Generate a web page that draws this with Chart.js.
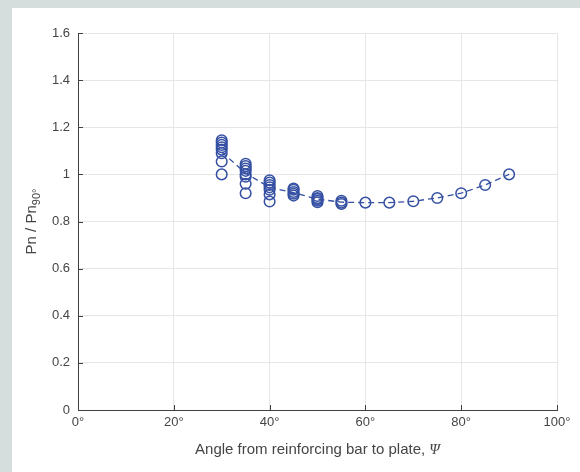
<!DOCTYPE html>
<html>
<head>
<meta charset="utf-8">
<script src="https://cdn.jsdelivr.net/npm/chart.js@4.4.1/dist/chart.umd.min.js"></script>
<style>
  html, body { margin: 0; padding: 0; background: #d5dedc; }
  #wrap { position: relative; width: 580px; height: 472px; }
  canvas { display: block; }
</style>
</head>
<body>
<div id="wrap"><canvas id="chart" width="580" height="472"></canvas></div>
<script>
// Individual specimens: angle (deg) and normalised strength Pn / Pn90°
const specimenAngle = [
  30, 30, 30, 30, 30, 30, 30, 30,
  35, 35, 35, 35, 35, 35, 35, 35,
  40, 40, 40, 40, 40, 40, 40,
  45, 45, 45, 45, 45,
  50, 50, 50, 50, 50,
  55, 55, 55,
  60, 65, 70, 75, 80, 85, 90
];
const specimenRatio = [
  1.145, 1.135, 1.125, 1.115, 1.105, 1.09, 1.055, 1.00,
  1.045, 1.035, 1.025, 1.015, 1.00, 0.99, 0.96, 0.92,
  0.975, 0.965, 0.955, 0.945, 0.935, 0.915, 0.885,
  0.94, 0.935, 0.925, 0.918, 0.91,
  0.908, 0.90, 0.895, 0.888, 0.882,
  0.888, 0.88, 0.874,
  0.88, 0.88, 0.886, 0.90, 0.92, 0.955, 1.00
];

// Mean trend through the groups
const meanAngle = [30, 35, 40, 45, 50, 55, 60, 65, 70, 75, 80, 85, 90];
const meanRatio = [1.095, 1.005, 0.945, 0.922, 0.895, 0.882, 0.88, 0.88, 0.886, 0.90, 0.92, 0.955, 1.00];

// Axis ticks
const xTicks = [0, 20, 40, 60, 80, 100];
const yTicks = [0, 0.2, 0.4, 0.6, 0.8, 1.0, 1.2, 1.4, 1.6];

const BLUE = '#3550a3';
const TEXT = '#454545';
const AXIS = '#404040';
const GRID = '#e6e6e6';
const SANS = '"Liberation Sans", Arial, Helvetica, sans-serif';

const specimenPoints = specimenAngle.map((a, i) => ({ x: a, y: specimenRatio[i] }));
const meanPoints = meanAngle.map((a, i) => ({ x: a, y: meanRatio[i] }));

// Grey frame with a white figure panel behind the axes
const panelBackground = {
  id: 'panelBackground',
  beforeDraw(chart) {
    const ctx = chart.ctx;
    ctx.save();
    ctx.fillStyle = '#d5dedc';
    ctx.fillRect(0, 0, chart.width, chart.height);
    ctx.fillStyle = '#ffffff';
    ctx.fillRect(12, 8, chart.width - 12, chart.height - 8);
    ctx.restore();
  }
};

// Inward tick marks plus axis titles (the y title carries a subscript)
const axisDecor = {
  id: 'axisDecor',
  afterDraw(chart) {
    const ctx = chart.ctx;
    const xs = chart.scales.x, ys = chart.scales.y;
    const area = chart.chartArea;
    ctx.save();
    ctx.strokeStyle = AXIS;
    ctx.lineWidth = 1;
    ctx.beginPath();
    yTicks.forEach(v => {
      const y = Math.round(ys.getPixelForValue(v)) + 0.5;
      ctx.moveTo(area.left, y);
      ctx.lineTo(area.left + 5, y);
    });
    xTicks.forEach(v => {
      const x = Math.round(xs.getPixelForValue(v)) + 0.5;
      ctx.moveTo(x, area.bottom);
      ctx.lineTo(x, area.bottom - 5);
    });
    ctx.stroke();

    // x title
    const mainX = 'Angle from reinforcing bar to plate, ';
    const symX = 'Ψ';
    ctx.fillStyle = TEXT;
    ctx.textBaseline = 'alphabetic';
    ctx.textAlign = 'left';
    ctx.font = '15px ' + SANS;
    const wMain = ctx.measureText(mainX).width;
    ctx.font = 'italic 15px "Liberation Serif", "Times New Roman", serif';
    const wSym = ctx.measureText(symX).width;
    const cx = (area.left + area.right) / 2;
    let x0 = cx - (wMain + wSym) / 2;
    ctx.font = '15px ' + SANS;
    ctx.fillText(mainX, x0, 454);
    ctx.font = 'italic 15px "Liberation Serif", "Times New Roman", serif';
    ctx.fillText(symX, x0 + wMain, 454);

    // y title: Pn / Pn with subscript 90°
    const mainY = 'Pn / Pn';
    const subY = '90°';
    ctx.font = '15px ' + SANS;
    const wy1 = ctx.measureText(mainY).width;
    ctx.font = '11px ' + SANS;
    const wy2 = ctx.measureText(subY).width;
    const cy = (area.top + area.bottom) / 2;
    ctx.translate(36, cy);
    ctx.rotate(-Math.PI / 2);
    const start = -(wy1 + wy2) / 2;
    ctx.font = '15px ' + SANS;
    ctx.fillText(mainY, start, 0);
    ctx.font = '11px ' + SANS;
    ctx.fillText(subY, start + wy1, 4);
    ctx.restore();
  }
};

new Chart(document.getElementById('chart'), {
  type: 'scatter',
  data: {
    datasets: [
      {
        label: 'Mean',
        data: meanPoints,
        showLine: true,
        borderColor: BLUE,
        borderWidth: 1.3,
        borderDash: [6, 4],
        pointRadius: 0,
        fill: false,
        order: 2
      },
      {
        label: 'Specimens',
        data: specimenPoints,
        showLine: false,
        pointStyle: 'circle',
        pointRadius: 5.3,
        pointBorderWidth: 1.5,
        borderColor: BLUE,
        backgroundColor: 'rgba(0,0,0,0)',
        order: 1
      }
    ]
  },
  options: {
    responsive: false,
    animation: false,
    events: [],
    layout: { padding: { top: 33, right: 23, left: 0, bottom: 0 } },
    plugins: {
      legend: { display: false },
      tooltip: { enabled: false }
    },
    scales: {
      x: {
        type: 'linear',
        min: 0,
        max: 100,
        afterBuildTicks: s => { s.ticks = xTicks.map(v => ({ value: v })); },
        afterFit: s => { s.height = 62; },
        ticks: {
          color: TEXT,
          font: { family: SANS, size: 13 },
          padding: 5,
          maxRotation: 0,
          callback: v => v + '°'
        },
        grid: { color: GRID, lineWidth: 1, drawTicks: false },
        border: { display: true, color: AXIS, width: 1 },
        title: { display: false }
      },
      y: {
        type: 'linear',
        min: 0,
        max: 1.6,
        afterBuildTicks: s => { s.ticks = yTicks.map(v => ({ value: v })); },
        afterFit: s => { s.width = 78; },
        ticks: {
          color: TEXT,
          font: { family: SANS, size: 13 },
          padding: 8,
          callback: v => String(Number(v.toFixed(1)))
        },
        grid: { color: GRID, lineWidth: 1, drawTicks: false },
        border: { display: true, color: AXIS, width: 1 },
        title: { display: false }
      }
    }
  },
  plugins: [panelBackground, axisDecor]
});
</script>
</body>
</html>
